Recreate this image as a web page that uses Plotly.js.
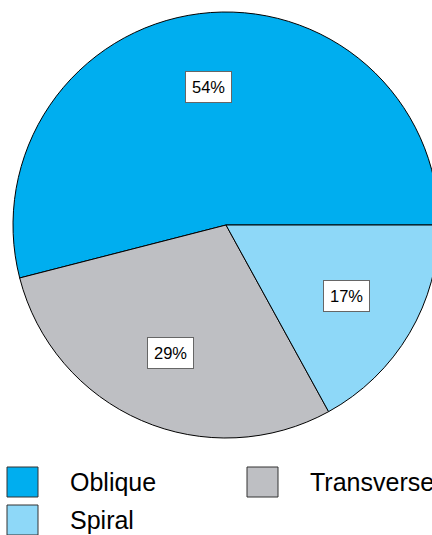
<!DOCTYPE html>
<html><head><meta charset="utf-8">
<script src="https://cdn.plot.ly/plotly-3.0.1.min.js"></script>
<style>html,body{margin:0;padding:0;overflow:hidden;background:#fff;}#chart{width:442px;height:535px;}</style>
</head><body><div id="chart"></div>
<script>
var categories = ["Oblique", "Transverse", "Spiral"];
var values = [54, 29, 17];
var colors = ["#00AEEF", "#BEBFC3", "#8ED8F8"];
var legendOrder = ["Oblique", "Transverse", "Spiral"];

var W = 442, H = 535;
var cx = 226, cy = 225, R = 213;
var domX = [(cx - R) / W, (cx + R) / W];
var domY = [(H - (cy + R)) / H, (H - (cy - R)) / H];

var total = values.reduce(function(a, b) { return a + b; }, 0);
// first slice should start at 3 o'clock and run counterclockwise
var rot = 90 + 360 * (1 - values[0] / total);

var annotations = [];
var start = 0;
values.forEach(function(v, i) {
  var mid = (start + v / 2) / total * 2 * Math.PI; // counterclockwise from 3 o'clock
  start += v;
  var px = cx + 0.655 * R * Math.cos(mid);
  var py = cy - 0.655 * R * Math.sin(mid);
  annotations.push({
    x: px / W, y: 1 - py / H, xref: 'paper', yref: 'paper', showarrow: false,
    xanchor: 'center', yanchor: 'middle',
    text: Math.round(v / total * 100) + '%',
    font: {family: 'Liberation Sans, Arial, sans-serif', size: 16.5, color: '#000'},
    bgcolor: '#fff', bordercolor: '#666', borderwidth: 1, borderpad: 6
  });
});

// custom legend
var shapes = [];
var legPos = [[7, 467], [247, 467], [7, 505]];
legendOrder.forEach(function(name, i) {
  var idx = categories.indexOf(name);
  var p = legPos[i];
  shapes.push({type: 'rect', xref: 'paper', yref: 'paper',
    x0: p[0] / W, x1: (p[0] + 31) / W, y0: 1 - (p[1] + 30) / H, y1: 1 - p[1] / H,
    fillcolor: colors[idx], line: {color: '#333', width: 1}});
  annotations.push({x: (p[0] + 61) / W, y: 1 - (p[1] + 15) / H, xref: 'paper', yref: 'paper',
    xanchor: 'left', yanchor: 'middle', showarrow: false, text: name,
    font: {family: 'Liberation Sans, Arial, sans-serif', size: 25, color: '#000'}});
});

var data = [{
  type: 'pie', labels: categories, values: values, sort: false,
  direction: 'counterclockwise', rotation: rot,
  marker: {colors: colors, line: {color: '#000', width: 1}},
  textinfo: 'none', hoverinfo: 'label+percent',
  domain: {x: domX, y: domY}, showlegend: false
}];
var layout = {
  width: W, height: H, margin: {l: 0, r: 0, t: 0, b: 0},
  paper_bgcolor: '#fff', showlegend: false,
  annotations: annotations, shapes: shapes
};
Plotly.newPlot('chart', data, layout, {displayModeBar: false, staticPlot: true});
</script></body></html>
